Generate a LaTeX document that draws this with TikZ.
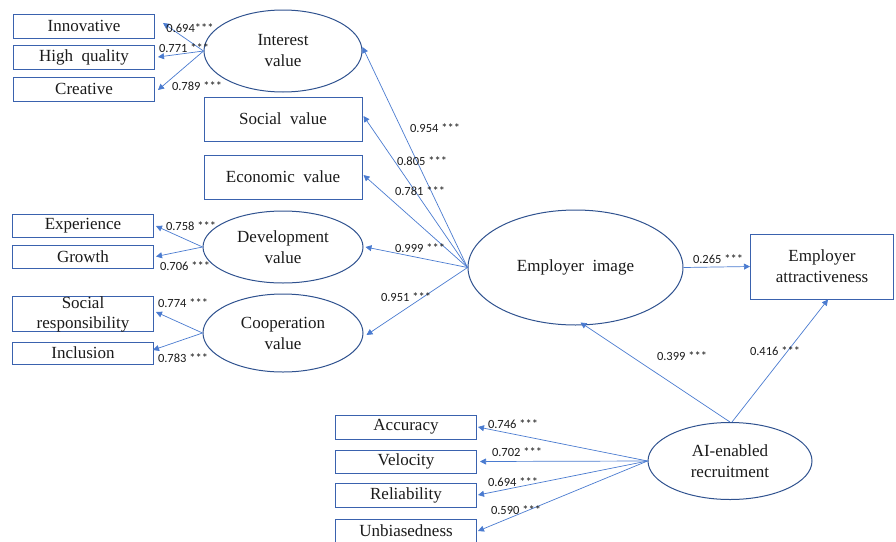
\documentclass[tikz,border=0pt]{standalone}
\usepackage{fontspec}
\setmainfont{Liberation Serif}
\newfontfamily\lblfont{Carlito}
\usetikzlibrary{shapes.geometric,arrows.meta}
\definecolor{boxblue}{HTML}{3A62AE}
\definecolor{ellblue}{HTML}{2F528F}
\definecolor{arrblue}{HTML}{4A7BD0}
\definecolor{txt}{HTML}{1A1A1A}
\tikzset{
  ind/.style={draw=boxblue, line width=1pt, rectangle, inner sep=0pt, minimum width=141pt, minimum height=24pt, font=\fontsize{17}{19}\selectfont, text=txt, align=center},
  bigbox/.style={draw=boxblue, line width=1pt, rectangle, inner sep=0pt, font=\fontsize{17}{21}\selectfont, text=txt, align=center},
  lat/.style={draw=ellblue, line width=1pt, ellipse, inner sep=0pt, font=\fontsize{17}{21}\selectfont, text=txt, align=center},
  arr/.style={draw=arrblue, line width=0.7pt, -{Triangle[width=6pt,length=6pt]}},
  lbl/.style={font=\lblfont\fontsize{12.5}{12.5}\selectfont, text=txt, inner sep=0pt}
}
\begin{document}
\begin{tikzpicture}[x=1pt,y=-1pt]
\useasboundingbox (0,0) rectangle (896,541);
% latent ellipses
\node[lat, minimum width=158pt, minimum height=82pt] (iv) at (283,51) {Interest\\value};
\node[lat, minimum width=160pt, minimum height=72pt] (dv) at (283,247) {Development\\value};
\node[lat, minimum width=160pt, minimum height=78pt] (cv) at (283,333) {Cooperation\\value};
\node[lat, minimum width=215pt, minimum height=115pt] (ei) at (575.5,267.5) {Employer\ \ image};
\node[lat, minimum width=164pt, minimum height=77pt] (ai) at (730,461) {AI-enabled\\recruitment};
% boxes
\node[bigbox, minimum width=158pt, minimum height=44pt] (sv) at (283,119) {Social\ \ value};
\node[bigbox, minimum width=158pt, minimum height=44pt] (ev) at (283,177) {Economic\ \ value};
\node[bigbox, minimum width=143pt, minimum height=65pt] (ea) at (822,266.5) {Employer\\attractiveness};
% indicators
\node[ind] (inn) at (84,26) {Innovative};
\node[ind] (hq) at (84,57) {High\ \ quality};
\node[ind] (cr) at (84,89) {Creative};
\node[ind, minimum height=23pt] (exp) at (83,226) {Experience};
\node[ind, minimum height=23pt] (gr) at (83,256.5) {Growth};
\node[ind, minimum height=34pt, font=\fontsize{17}{20}\selectfont] (sr) at (83,314) {Social\\responsibility};
\node[ind, minimum height=22pt] (inc) at (83,353) {Inclusion};
\node[ind] (acc) at (406,427) {Accuracy};
\node[ind, minimum height=23pt] (vel) at (406,461.5) {Velocity};
\node[ind] (rel) at (406,495) {Reliability};
\node[ind] (unb) at (406,531) {Unbiasedness};
% arrows from Interest value
\draw[arr] (iv.west) -- ([xshift=8pt,yshift=3pt]inn.east);
\draw[arr] (iv.west) -- ([xshift=3pt]hq.east);
\draw[arr] (iv.west) -- ([xshift=3pt,yshift=-1pt]cr.east);
% arrows from Employer image
\draw[arr] (ei.west) -- ([yshift=4pt]iv.east);
\draw[arr] (ei.west) -- ([xshift=1pt,yshift=3pt]sv.east);
\draw[arr] (ei.west) -- ([xshift=1pt,yshift=2pt]ev.east);
\draw[arr] (ei.west) -- ([xshift=2pt]dv.east);
\draw[arr] (ei.west) -- ([xshift=3pt,yshift=-2pt]cv.east);
% development / cooperation indicators
\draw[arr] (dv.west) -- ([xshift=2pt]exp.east);
\draw[arr] (dv.west) -- ([xshift=2pt]gr.east);
\draw[arr] (cv.west) -- ([xshift=2pt,yshift=2pt]sr.east);
\draw[arr] (cv.west) -- ([xshift=-1pt,yshift=3pt]inc.east);
% structural
\draw[arr] (ei.east) -- (ea.west);
\draw[arr] (ai.north) -- ([xshift=5pt,yshift=3pt]ei.south);
\draw[arr] ([xshift=2pt]ai.north) -- ([xshift=6pt]ea.south);
% AI indicators
\draw[arr] (ai.west) -- ([xshift=1pt]acc.east);
\draw[arr] (ai.west) -- ([xshift=3pt]vel.east);
\draw[arr] (ai.west) -- ([xshift=1pt]rel.east);
\draw[arr] (ai.west) -- ([xshift=1pt]unb.east);
% labels
\node[lbl] (l1) at (190,28) {0.694***};
\node[lbl] (l2) at (184,48) {0.771 ***};
\node[lbl] (l3) at (197,86) {0.789 ***};
\node[lbl] (l4) at (435,128) {0.954 ***};
\node[lbl] (l5) at (422,161) {0.805 ***};
\node[lbl] (l6) at (420,191) {0.781 ***};
\node[lbl] (l7) at (420,248) {0.999 ***};
\node[lbl] (l8) at (406,297) {0.951 ***};
\node[lbl] (l9) at (191,226) {0.758 ***};
\node[lbl] (l10) at (185,266) {0.706 ***};
\node[lbl] (l11) at (183,303) {0.774 ***};
\node[lbl] (l12) at (183,358) {0.783 ***};
\node[lbl] (l13) at (718,259) {0.265 ***};
\node[lbl] (l14) at (682,356) {0.399 ***};
\node[lbl] (l15) at (775,351) {0.416 ***};
\node[lbl] (l16) at (513,424) {0.746 ***};
\node[lbl] (l17) at (517,452) {0.702 ***};
\node[lbl] (l18) at (513,482) {0.694 ***};
\node[lbl] (l19) at (516,510) {0.590 ***};
\end{tikzpicture}
\end{document}
